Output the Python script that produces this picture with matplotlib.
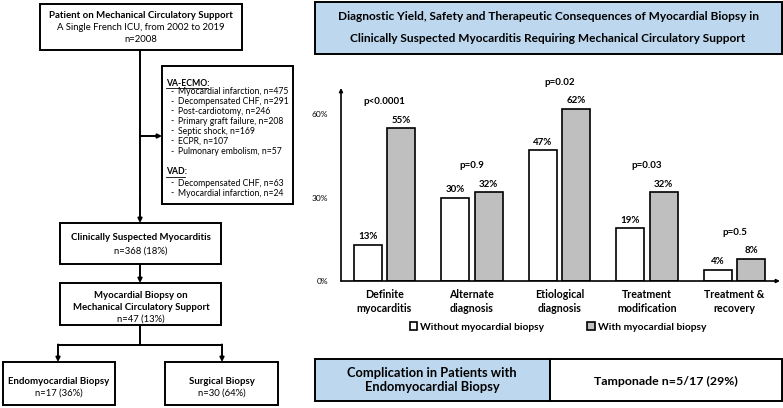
import matplotlib
matplotlib.use('Agg')
import matplotlib.pyplot as plt
from matplotlib.patches import Rectangle, Patch

plt.rcParams['font.family'] = ['Lato', 'DejaVu Sans']

# bar chart data
categories = ['Definite\nmyocarditis', 'Alternate\ndiagnosis', 'Etiological\ndiagnosis',
              'Treatment\nmodification', 'Treatment &\nrecovery']
without_biopsy = [13, 30, 47, 19, 4]
with_biopsy = [55, 32, 62, 32, 8]
p_values = ['p<0.0001', 'p=0.9', 'p=0.02', 'p=0.03', 'p=0.5']
yticks = [0, 30, 60]
legend_labels = ['Without myocardial biopsy', 'With myocardial biopsy']

# flowchart text
top_box = ['Patient on Mechanical Circulatory Support', 'A Single French ICU, from 2002 to 2019', 'n=2008']
va_ecmo = ['Myocardial infarction, n=475', 'Decompensated CHF, n=291', 'Post-cardiotomy, n=246',
           'Primary graft failure, n=208', 'Septic shock, n=169', 'ECPR, n=107',
           'Pulmonary embolism, n=57']
vad = ['Decompensated CHF, n=63', 'Myocardial infarction, n=24']
suspected_box = ['Clinically Suspected Myocarditis', 'n=368 (18%)']
biopsy_box = ['Myocardial Biopsy on', 'Mechanical Circulatory Support', 'n=47 (13%)']
endo_box = ['Endomyocardial Biopsy', 'n=17 (36%)']
surg_box = ['Surgical Biopsy', 'n=30 (64%)']
title_text = ['Diagnostic Yield, Safety and Therapeutic Consequences of Myocardial Biopsy in',
              'Clinically Suspected Myocarditis Requiring Mechanical Circulatory Support']
complication = 'Complication in Patients with\nEndomyocardial Biopsy'
tamponade = 'Tamponade n=5/17 (29%)'

BLUE = '#bdd7ee'
GRAY = '#bfbfbf'
LW = 1.4
FB = 6.9   # bold flowchart text
FN = 6.8   # normal flowchart text
FL = 6.2   # list text

fig = plt.figure(figsize=(7.83, 4.08), dpi=100)
ax0 = fig.add_axes([0, 0, 1, 1])
ax0.set_xlim(0, 783)
ax0.set_ylim(408, 0)
ax0.axis('off')


def box(x0, y0, x1, y1, fc='white'):
    ax0.add_patch(Rectangle((x0, y0), x1 - x0, y1 - y0, fc=fc, ec='black', lw=LW, zorder=2))


def lines_in_box(x, ys, texts, nbold=1):
    for i, (y, t) in enumerate(zip(ys, texts)):
        if i < nbold:
            ax0.text(x, y, t, ha='center', va='center', fontsize=FB, fontweight='bold', zorder=3)
        else:
            ax0.text(x, y, t, ha='center', va='center', fontsize=FN, zorder=3)


def arrow(x0, y0, x1, y1):
    ax0.annotate('', xy=(x1, y1), xytext=(x0, y0),
                 arrowprops=dict(arrowstyle='-|>', lw=LW, color='black',
                                 mutation_scale=6, shrinkA=0, shrinkB=0))


# --- flowchart ---
box(40, 4, 242, 50)
lines_in_box(141, [15, 27.5, 40], top_box)

ax0.plot([140, 140], [50, 200], color='black', lw=LW)
arrow(140, 199, 140, 223)
arrow(140, 136, 162, 136)

box(162, 66, 293, 204)
t = ax0.text(166, 83.5, 'VA-ECMO:', fontsize=FL, fontweight='bold', va='center', zorder=3)
for y, s in zip([92, 101.5, 111, 121, 131, 141, 151.5], va_ecmo):
    ax0.text(170, y, '-', fontsize=FL, va='center', zorder=3)
    ax0.text(178, y, s, fontsize=FL, va='center', zorder=3)
t2 = ax0.text(166, 172, 'VAD:', fontsize=FL, fontweight='bold', va='center', zorder=3)
for y, s in zip([183, 193], vad):
    ax0.text(170, y, '-', fontsize=FL, va='center', zorder=3)
    ax0.text(178, y, s, fontsize=FL, va='center', zorder=3)

# underline the two headers
fig.canvas.draw()
inv = ax0.transData.inverted()
for tt, y in [(t, 88), (t2, 176.5)]:
    bb = tt.get_window_extent()
    xa = inv.transform((bb.x0, bb.y0))[0]
    xb = inv.transform((bb.x1, bb.y0))[0]
    ax0.plot([xa, xb - 2], [y, y], color='black', lw=0.6, zorder=3)

box(60, 223, 221, 264)
lines_in_box(141, [238, 251.5], suspected_box)
arrow(140, 264, 140, 283)

box(60, 283, 221, 325)
lines_in_box(141, [295.5, 307.5, 319], biopsy_box, nbold=2)

ax0.plot([140, 140], [325, 345], color='black', lw=LW)
ax0.plot([58, 222], [345, 345], color='black', lw=LW)
arrow(58, 344.5, 58, 362)
arrow(222, 344.5, 222, 362)

box(3, 362, 115, 405)
lines_in_box(59, [381, 393], endo_box)
box(165, 362, 278, 405)
lines_in_box(221.5, [381, 393], surg_box)

# --- title box ---
box(315, 2, 782, 54, fc=BLUE)
ax0.text(548, 16, title_text[0], ha='center', va='center', fontsize=8.6, fontweight='bold')
ax0.text(548, 38, title_text[1], ha='center', va='center', fontsize=8.6, fontweight='bold')

# --- complication box ---
box(315, 359, 550, 401, fc=BLUE)
box(550, 359, 782, 401)
ax0.text(432, 380, complication, ha='center', va='center', fontsize=9.3, fontweight='bold',
         linespacing=1.15)
ax0.text(666, 381, tamponade, ha='center', va='center', fontsize=8.9, fontweight='bold')

# --- bar chart ---
ax = fig.add_axes([341 / 783, 1 - 281 / 408, (780 - 341) / 783, (281 - 88) / 408])
ax.patch.set_alpha(0)
x = list(range(len(categories)))
bw = 0.32
off = 0.189
b1 = ax.bar([i - off for i in x], without_biopsy, bw, color='white', edgecolor='black', lw=1.2)
b2 = ax.bar([i + off for i in x], with_biopsy, bw, color=GRAY, edgecolor='black', lw=1.2)
for bars in (b1, b2):
    for r in bars:
        ax.annotate(f'{r.get_height():.0f}%', (r.get_x() + r.get_width() / 2, r.get_height()),
                    xytext=(0, 2.5), textcoords='offset points', ha='center', va='bottom',
                    fontsize=7, fontweight='bold')
for i, p in enumerate(p_values):
    top = max(without_biopsy[i], with_biopsy[i])
    ax.text(i, top + 9.5, p, ha='center', va='center', fontsize=7, fontweight='bold',
            clip_on=False)

ax.set_xlim(-0.497, 4.52)
ax.set_ylim(0, 69.4)
ax.set_yticks(yticks)
ax.set_yticklabels([f'{v}%' for v in yticks], fontsize=6)
ax.set_xticks(x)
ax.set_xticklabels(categories, fontsize=7.7, fontweight='bold', linespacing=1.3)
ax.tick_params(axis='y', length=0, pad=9)
ax.tick_params(axis='x', length=0, pad=6)
for s in ax.spines.values():
    s.set_visible(False)
ax.annotate('', xy=(1, 0), xytext=(0, 0), xycoords='axes fraction',
            arrowprops=dict(arrowstyle='-|>', lw=1.2, color='black', mutation_scale=5,
                            shrinkA=0, shrinkB=0))
ax.annotate('', xy=(0, 1), xytext=(0, 0), xycoords='axes fraction',
            arrowprops=dict(arrowstyle='-|>', lw=1.2, color='black', mutation_scale=5,
                            shrinkA=0, shrinkB=0))

handles = [Patch(fc='white', ec='black', lw=1.2), Patch(fc=GRAY, ec='black', lw=1.2)]
leg = fig.legend(handles, legend_labels, loc='center', bbox_to_anchor=(558 / 783, 1 - 327 / 408),
                 ncol=2, frameon=False, handlelength=0.7, handleheight=0.7, handletextpad=0.3,
                 columnspacing=4.2, prop={'size': 7.4, 'weight': 'bold'})

fig.savefig('out.png', dpi=100)
